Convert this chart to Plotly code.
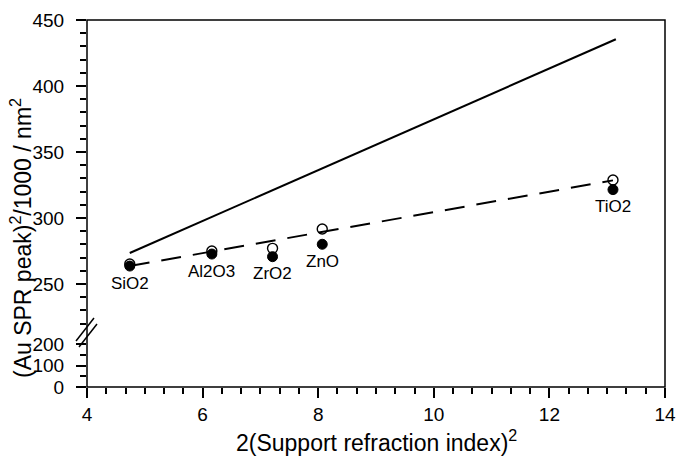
import plotly.graph_objects as go

# ---- data ----
oxides = ["SiO2", "Al2O3", "ZrO2", "ZnO", "TiO2"]
x_vals = [4.74, 6.16, 7.21, 8.07, 13.10]
y_open = [265.2, 275.0, 277.0, 291.7, 328.8]
y_filled = [263.6, 272.7, 270.7, 280.1, 321.5]
solid_x = [4.74, 13.15]
solid_y = [273.5, 435.4]
dash_x = [4.74, 13.10]
dash_y = [263.6, 328.5]
x_tick_vals = [4, 6, 8, 10, 12, 14]
y_low_ticks = [0, 100, 200]
y_up_ticks = [250, 300, 350, 400, 450]

FONT = "Liberation Sans, Arial, sans-serif"

# plot-area geometry (px)
W, H = 678, 460
L, R, T, B = 87, 13, 20, 73
pw, ph = W - L - R, H - T - B
bottom_px = H - B

def py2paper(py):
    return (bottom_px - py) / ph

def px2paper(px):
    return (px - L) / pw

fig = go.Figure()

# empty trace so that the lower (0-200) axis segment exists
fig.add_trace(go.Scatter(x=[], y=[], yaxis="y", xaxis="x", mode="markers",
                         showlegend=False, hoverinfo="skip"))

fig.add_trace(go.Scatter(x=x_vals, y=y_open, mode="markers", yaxis="y2",
                         marker=dict(size=10, color="white",
                                     line=dict(color="black", width=1.4)),
                         showlegend=False, cliponaxis=False))
fig.add_trace(go.Scatter(x=x_vals, y=y_filled, mode="markers", yaxis="y2",
                         marker=dict(size=10, color="black",
                                     line=dict(color="black", width=1)),
                         showlegend=False, cliponaxis=False))
fig.add_trace(go.Scatter(x=solid_x, y=solid_y, mode="lines", yaxis="y2",
                         line=dict(color="black", width=2),
                         showlegend=False))
fig.add_trace(go.Scatter(x=dash_x, y=dash_y, mode="lines", yaxis="y2",
                         line=dict(color="black", width=2, dash="20px,12px"),
                         showlegend=False))

# labels under the points
for name, xv, yv in zip(oxides, x_vals, y_filled):
    fig.add_annotation(x=xv, y=yv, xref="x", yref="y2", text=name,
                       showarrow=False, yshift=-17,
                       font=dict(family=FONT, size=17, color="black"))

low_range = [0, 215]
up_range = [213, 450]
low_top_px = bottom_px - 215 * 0.215
up_bottom_px = 284 + (250 - 213) * 1.32

tickfont = dict(family=FONT, size=19, color="black")

def minor(dt, t0):
    return dict(dtick=dt, tick0=t0, ticks="outside", ticklen=6,
                tickwidth=1.5, tickcolor="black", showgrid=False)

fig.update_layout(
    width=W, height=H,
    margin=dict(l=L, r=R, t=T, b=B, autoexpand=False),
    paper_bgcolor="white", plot_bgcolor="white",
    xaxis=dict(range=[4, 14], tickvals=x_tick_vals, ticks="outside",
               ticklen=10, tickwidth=1.5, tickcolor="black",
               minor=minor(1/3, 4), automargin=False,
               showgrid=False, zeroline=False, showline=False,
               anchor="y", tickfont=tickfont),
    yaxis=dict(domain=[0, py2paper(low_top_px)], range=low_range,
               tickvals=y_low_ticks, ticks="outside", ticklen=10,
               tickwidth=1.5, tickcolor="black", ticklabelstandoff=8,
               minor=minor(50, 0), automargin=False,
               showgrid=False, zeroline=False, showline=False,
               anchor="x", tickfont=tickfont),
    yaxis2=dict(domain=[py2paper(up_bottom_px), 1], range=up_range,
                tickvals=y_up_ticks, ticks="outside", ticklen=10,
                tickwidth=1.5, tickcolor="black", ticklabelstandoff=8,
                minor=minor(10, 0), automargin=False,
                showgrid=False, zeroline=False, showline=False,
                anchor="x", tickfont=tickfont),
)

# frame
fig.add_shape(type="rect", xref="paper", yref="paper", x0=0, y0=0, x1=1, y1=1,
              line=dict(color="black", width=1.5), fillcolor="rgba(0,0,0,0)")

# axis break marks
for (ax0, ay0, ax1, ay1) in [(76, 341, 94, 318), (79, 347, 97, 324)]:
    fig.add_shape(type="line", xref="paper", yref="paper",
                  x0=px2paper(ax0), y0=py2paper(ay0),
                  x1=px2paper(ax1), y1=py2paper(ay1),
                  line=dict(color="black", width=1.5))

# axis titles
fig.add_annotation(xref="paper", yref="paper", x=px2paper(21), y=py2paper(238),
                   text="(Au SPR peak)<sup>2</sup>/1000 / nm<sup>2</sup>",
                   textangle=-90, showarrow=False, xanchor="center", yanchor="middle",
                   font=dict(family=FONT, size=23, color="black"))
fig.add_annotation(xref="paper", yref="paper", x=px2paper(376), y=py2paper(441),
                   text="2(Support refraction index)<sup>2</sup>",
                   showarrow=False, xanchor="center", yanchor="middle",
                   font=dict(family=FONT, size=23, color="black"))

fig.write_html("out.html", config={"displayModeBar": False},
               post_script="document.body.style.margin='0';"
                           "document.body.style.overflow='hidden';")
